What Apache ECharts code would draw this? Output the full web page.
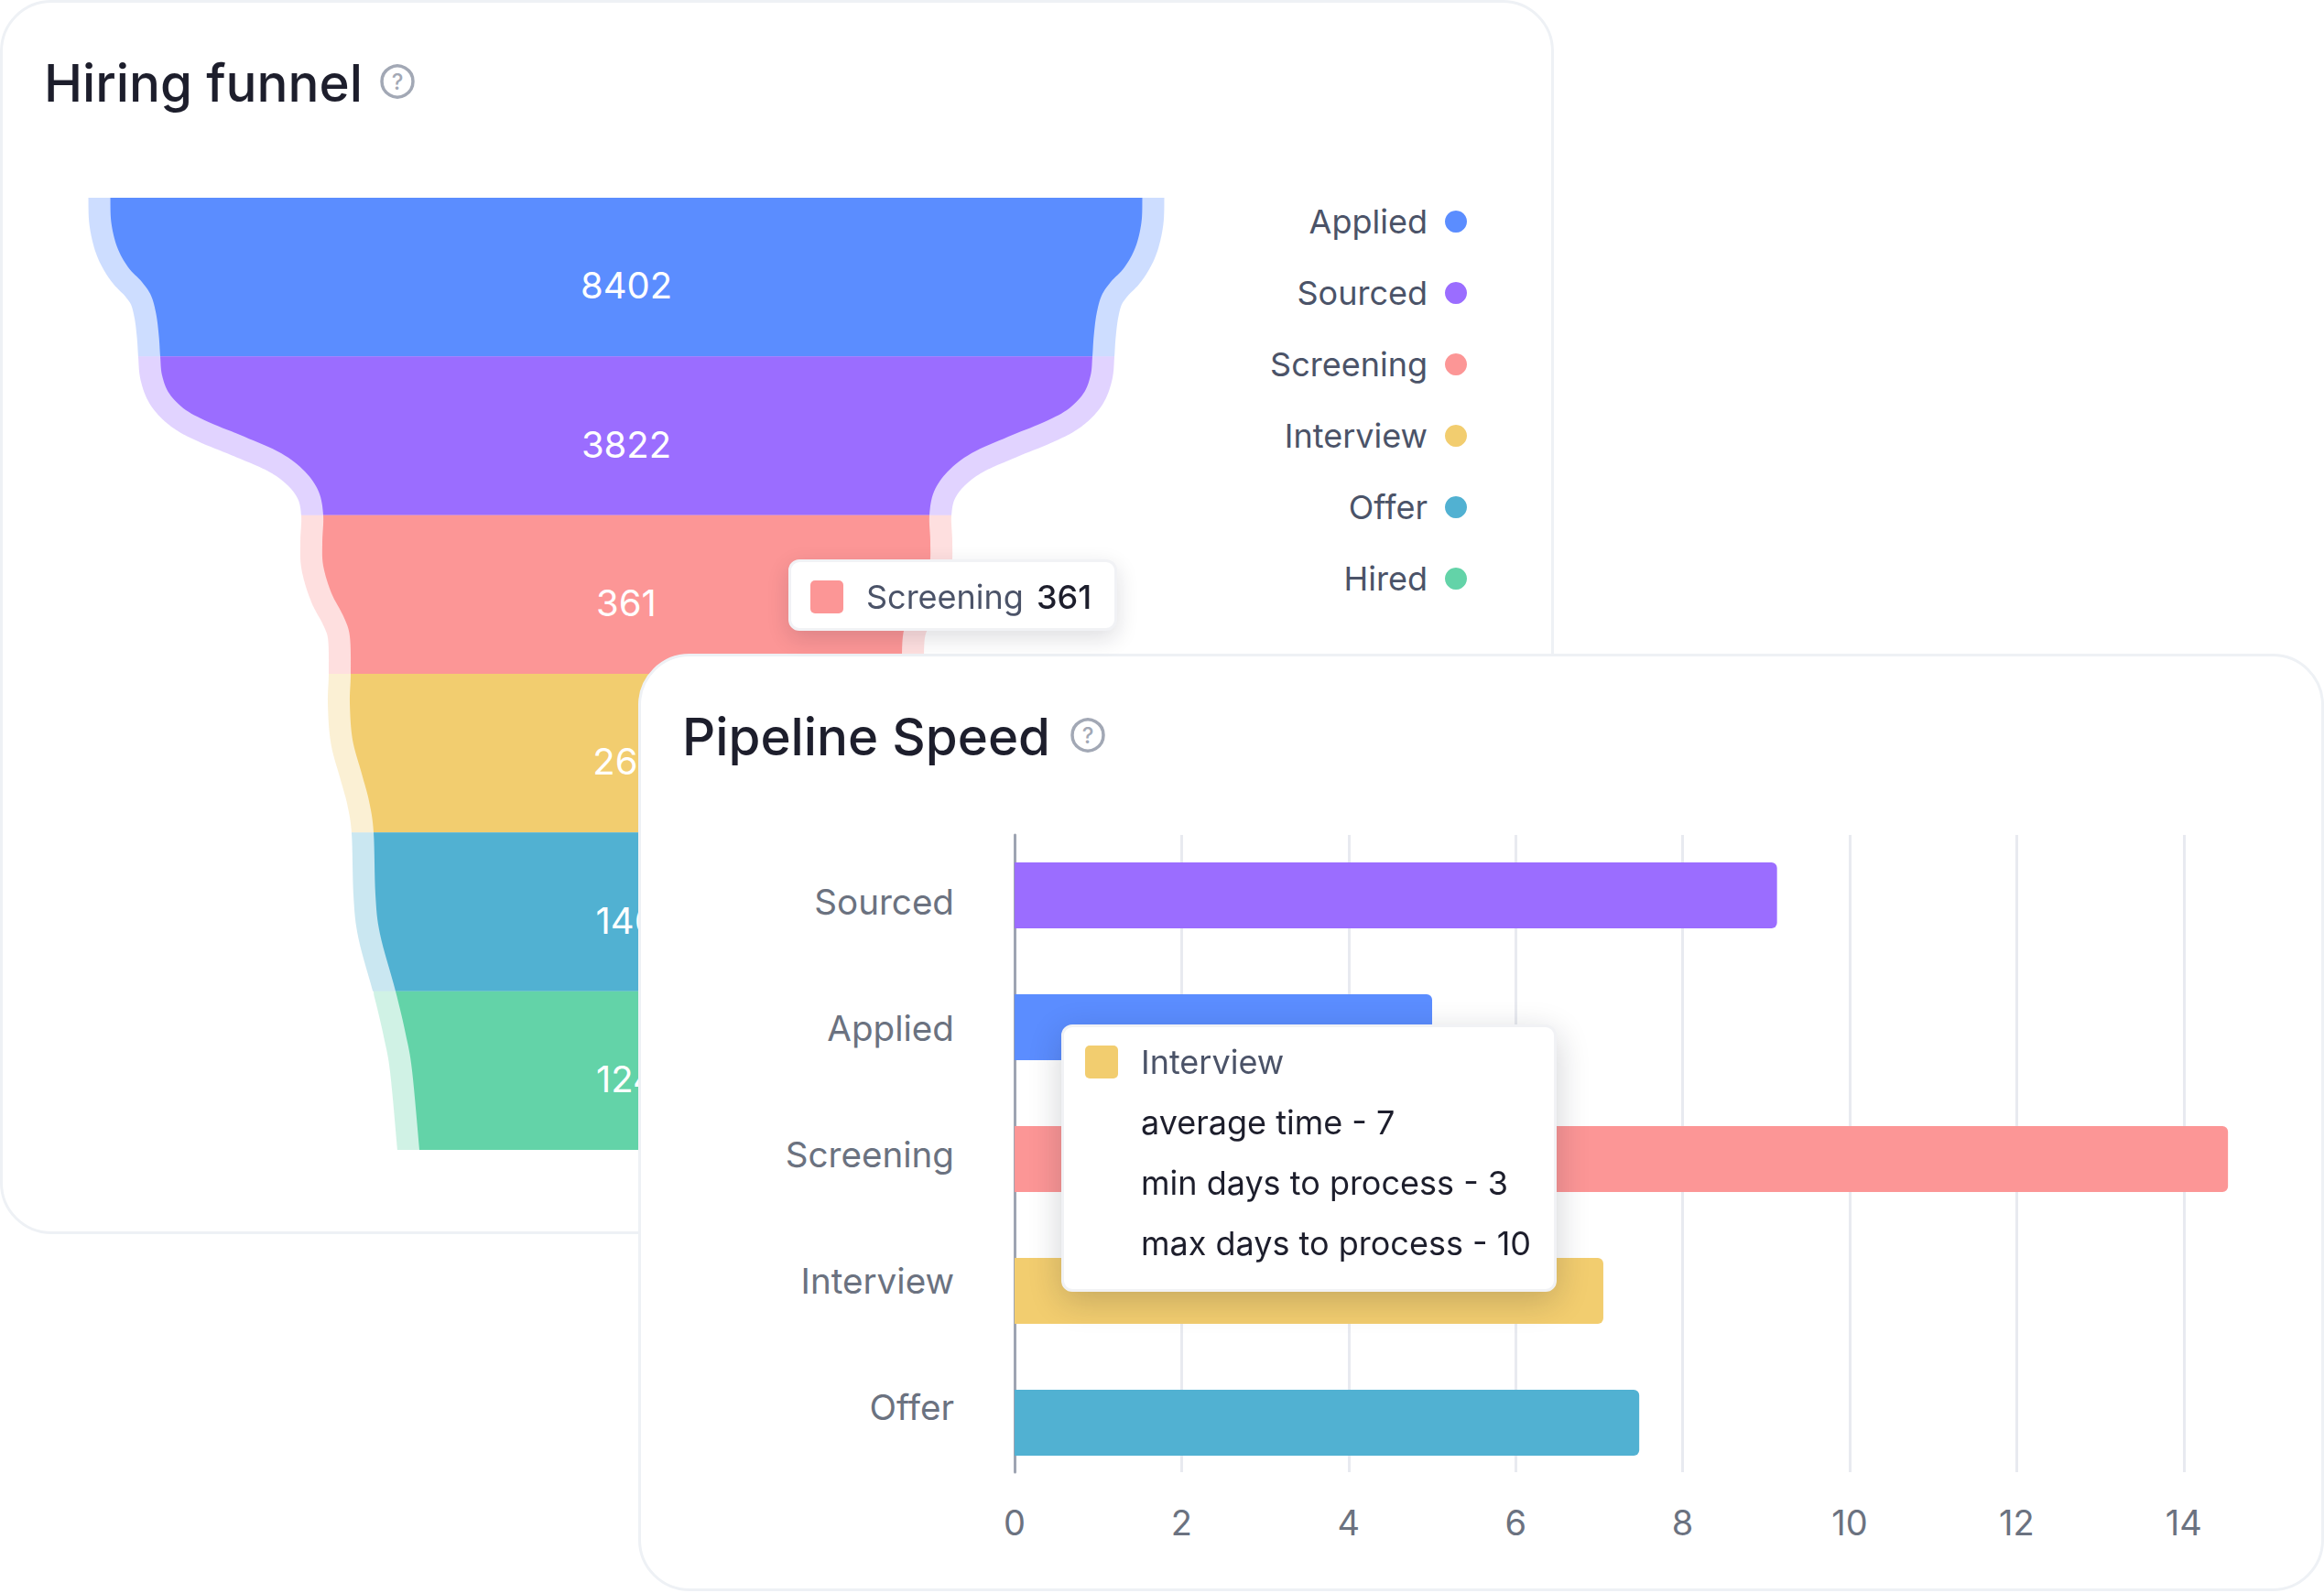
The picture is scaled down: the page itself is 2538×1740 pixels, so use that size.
<!DOCTYPE html>
<html>
<head>
<meta charset="utf-8">
<script src="https://cdn.jsdelivr.net/npm/echarts@6/dist/echarts.min.js"></script>
<style>
  html, body { margin: 0; padding: 0; background: #fff; width: 2538px; height: 1740px; overflow: hidden; font-family: Inter, sans-serif; }
  .card { position: absolute; box-sizing: border-box; background: #fff; border: 3px solid #EEF1F5; border-radius: 56px; }
  .chart { position: absolute; left: -3px; top: -3px; }
  #card-funnel { left: 0; top: 0; width: 1697px; height: 1348px; }
  #chart-funnel { width: 1697px; height: 1348px; }
  #card-speed { left: 697px; top: 714px; width: 1841px; height: 1024px; }
  #chart-speed { width: 1841px; height: 1024px; }
</style>
</head>
<body>
<div class="card" id="card-funnel"><div class="chart" id="chart-funnel"></div></div>
<div class="card" id="card-speed"><div class="chart" id="chart-speed"></div></div>
<script>
var stages = ['Applied', 'Sourced', 'Screening', 'Interview', 'Offer', 'Hired'];
var stageValues = [8402, 3822, 361, 265, 146, 124];
var stageColors = ['#5B8DFF', '#9B6DFF', '#FC9696', '#F2CD6F', '#51B1D2', '#63D3A8'];

// funnel outline: position along the funnel (1 = one stage) and full width
var outlinePos = [0, 0.156, 0.312, 0.438, 0.531, 0.617, 0.733, 0.871, 1, 1.119, 1.235, 1.338, 1.419, 1.506, 1.61, 1.725, 1.852, 2, 2.169, 2.319, 2.492, 2.637, 2.763, 3, 3.185, 3.415, 3.629, 3.802, 4, 4.39, 4.64, 5, 5.27, 5.5, 6];
var outlineWidth = [1127, 1125, 1112, 1088, 1058, 1038, 1027, 1021, 1018, 1014, 998, 962, 908, 834, 754, 702, 672, 662, 664, 662, 644, 618, 604, 602, 604, 598, 578, 562, 552, 548, 538, 504, 482, 468, 452];

var speedStages = ['Sourced', 'Applied', 'Screening', 'Interview', 'Offer'];
var speedValues = [9.13, 5, 14.53, 7.05, 7.48];
var speedColors = ['#9B6DFF', '#5B8DFF', '#FC9696', '#F2CD6F', '#51B1D2'];
var tipLabels = ['average time', 'min days to process', 'max days to process'];
var interviewTip = [7, 3, 10];

var font = 'Inter, sans-serif';
var muted = '#6B7280';
var tipText = '#4B5368';
var ink = '#1D1E2C';

// catmull-rom through the outline samples, so the funnel edge comes out as a curve
function catmull(a, b, c, d, t) {
  return 0.5 * (2 * b + (c - a) * t + (2 * a - 5 * b + 4 * c - d) * t * t + (3 * b - a - 3 * c + d) * t * t * t);
}
function stageEdge(stage) {
  var out = [];
  var n = outlinePos.length;
  for (var i = 0; i < n - 1; i++) {
    if (outlinePos[i] < stage || outlinePos[i + 1] > stage + 1) continue;
    var i0 = Math.max(i - 1, 0), i3 = Math.min(i + 2, n - 1);
    for (var k = 0; k < 8; k++) {
      out.push([
        catmull(outlineWidth[i0], outlineWidth[i], outlineWidth[i + 1], outlineWidth[i3], k / 8),
        catmull(outlinePos[i0], outlinePos[i], outlinePos[i + 1], outlinePos[i3], k / 8)
      ]);
    }
  }
  var last = outlinePos.indexOf(stage + 1);
  out.push([outlineWidth[last], outlinePos[last]]);
  return out;
}

function renderStage(params, api) {
  var stage = api.value(0);
  var edge = stageEdge(stage);
  var right = edge.map(function(p) { return api.coord([p[0] / 2, p[1]]); });
  var left = edge.map(function(p) { return api.coord([-p[0] / 2, p[1]]); }).reverse();
  var pts = right.concat(left);
  var top = api.coord([0, stage])[1];
  var bottom = api.coord([0, stage + 1])[1];
  var color = api.visual('color');
  var clip = { type: 'rect', shape: { x: 0, y: top, width: 1697, height: bottom - top } };
  return {
    type: 'group',
    children: [
      { type: 'polygon', shape: { points: pts }, clipPath: clip,
        style: { fill: 'none', stroke: color, opacity: 0.3, lineWidth: 48, lineJoin: 'round' } },
      { type: 'polygon', shape: { points: pts }, style: { fill: color } },
      { type: 'text', x: api.coord([0, 0])[0], y: (top + bottom) / 2 + 9,
        style: { text: String(api.value(1)), fill: '#fff', font: '400 40px ' + font, align: 'center', verticalAlign: 'middle' } }
    ]
  };
}

function helpIcon(x, y) {
  return {
    type: 'group', x: x, y: y,
    children: [
      { type: 'circle', shape: { cx: 0, cy: 0, r: 17 }, style: { fill: 'none', stroke: '#A2A8B5', lineWidth: 3.5 } },
      { type: 'text', style: { text: '?', x: 0, y: 0, fill: '#A2A8B5', font: '500 24px ' + font, align: 'center', verticalAlign: 'middle' } }
    ]
  };
}

function swatch(color) {
  return '<span style="display:inline-block;width:36px;height:36px;border-radius:5px;background:' + color + ';vertical-align:middle;margin-right:25px"></span>';
}

var chartFunnel = echarts.init(document.getElementById('chart-funnel'), null, { renderer: 'svg' });
chartFunnel.setOption({
  animation: false,
  title: { text: 'Hiring funnel', left: 43, top: 57, textStyle: { fontFamily: font, fontSize: 56.5, fontWeight: 500, color: ink } },
  graphic: [helpIcon(434, 89)],
  legend: {
    data: stages,
    orient: 'vertical',
    right: 90,
    top: 219,
    align: 'right',
    icon: 'circle',
    itemWidth: 24,
    itemHeight: 24,
    itemGap: 42,
    selectedMode: false,
    textStyle: { fontFamily: font, fontSize: 36, color: tipText, padding: [0, 14, 0, 0] }
  },
  tooltip: {
    trigger: 'item',
    alwaysShowContent: true,
    transitionDuration: 0,
    position: [861, 611],
    backgroundColor: '#fff',
    borderColor: '#F1F2F5',
    borderWidth: 3,
    borderRadius: 12,
    padding: [17, 25, 19, 21],
    extraCssText: 'box-shadow:0 8px 24px rgba(20,24,40,0.14);line-height:36px;',
    textStyle: { fontFamily: font, fontSize: 36, color: tipText },
    formatter: function(p) {
      return '<div style="line-height:36px;height:36px">' + swatch(p.color) + '<span style="vertical-align:middle">' + p.seriesName + '</span>' +
        '<span style="vertical-align:middle;color:' + ink + ';font-weight:500;margin-left:14px">' + p.value[1] + '</span></div>';
    }
  },
  grid: { left: 0, top: 216, width: 1368, height: 1040 },
  xAxis: { type: 'value', min: -684, max: 684, show: false },
  yAxis: { type: 'value', min: 0, max: 6, inverse: true, show: false },
  series: stages.map(function(name, i) {
    return {
      type: 'custom',
      name: name,
      renderItem: renderStage,
      clip: false,
      itemStyle: { color: stageColors[i] },
      encode: { x: -1, y: -1 },
      data: [[i, stageValues[i]]]
    };
  })
});

var chartSpeed = echarts.init(document.getElementById('chart-speed'), null, { renderer: 'svg' });
chartSpeed.setOption({
  animation: false,
  title: { text: 'Pipeline Speed', left: 43, top: 57, textStyle: { fontFamily: font, fontSize: 56.5, fontWeight: 500, color: ink } },
  graphic: [helpIcon(491, 89)],
  tooltip: {
    trigger: 'item',
    alwaysShowContent: true,
    transitionDuration: 0,
    position: [462, 405],
    backgroundColor: '#fff',
    borderColor: '#F1F2F5',
    borderWidth: 3,
    borderRadius: 12,
    padding: [0, 25, 0, 23],
    extraCssText: 'box-shadow:0 10px 36px rgba(20,24,40,0.2);',
    textStyle: { fontFamily: font, fontSize: 36, color: ink },
    formatter: function(p) {
      var rows = tipLabels.map(function(label, i) {
        return '<div style="margin-left:61px;line-height:66px">' + label + ' - ' + interviewTip[i] + '</div>';
      }).join('');
      return '<div style="line-height:66px;padding:2px 0 17px">' + swatch(p.color) +
        '<span style="vertical-align:middle;color:' + tipText + '">' + p.name + '</span>' + rows + '</div>';
    }
  },
  // the picture's grid lines, bars and labels don't share one band spacing, so each gets its own grid
  grid: [
    { left: 411, top: 198, width: 1368, height: 696 },
    { left: 411, top: 192, width: 1368, height: 720 },
    { left: 411, top: 202, width: 1368, height: 690 }
  ],
  xAxis: [
    {
      type: 'value', gridIndex: 0, min: 0, max: 15, interval: 2,
      axisLine: { show: false },
      axisTick: { show: false },
      axisLabel: { margin: 36, fontFamily: font, fontSize: 38, color: muted, showMaxLabel: false },
      splitLine: { showMaxLine: false, lineStyle: { color: '#E8EAF0', width: 3 } }
    },
    { type: 'value', gridIndex: 1, min: 0, max: 15, show: false },
    { type: 'value', gridIndex: 2, min: 0, max: 15, show: false }
  ],
  yAxis: [
    {
      type: 'category', gridIndex: 0, data: speedStages, inverse: true,
      axisLine: { show: true, lineStyle: { color: '#9EA4B2', width: 3 } },
      axisTick: { show: false },
      axisLabel: { show: false }
    },
    { type: 'category', gridIndex: 1, data: speedStages, inverse: true, show: false },
    {
      type: 'category', gridIndex: 2, data: speedStages, inverse: true,
      axisLine: { show: false },
      axisTick: { show: false },
      axisLabel: { margin: 66, fontFamily: font, fontSize: 38.6, color: muted }
    }
  ],
  series: [{
    type: 'bar',
    xAxisIndex: 1,
    yAxisIndex: 1,
    barWidth: 72,
    z: 3,
    data: speedValues.map(function(v, i) {
      return { value: v, itemStyle: { color: speedColors[i], borderRadius: [0, 6, 6, 0] } };
    })
  }]
});

chartFunnel.dispatchAction({ type: 'showTip', seriesIndex: stages.indexOf('Screening'), dataIndex: 0 });
chartSpeed.dispatchAction({ type: 'showTip', seriesIndex: 0, dataIndex: speedStages.indexOf('Interview') });
</script>
</body>
</html>
